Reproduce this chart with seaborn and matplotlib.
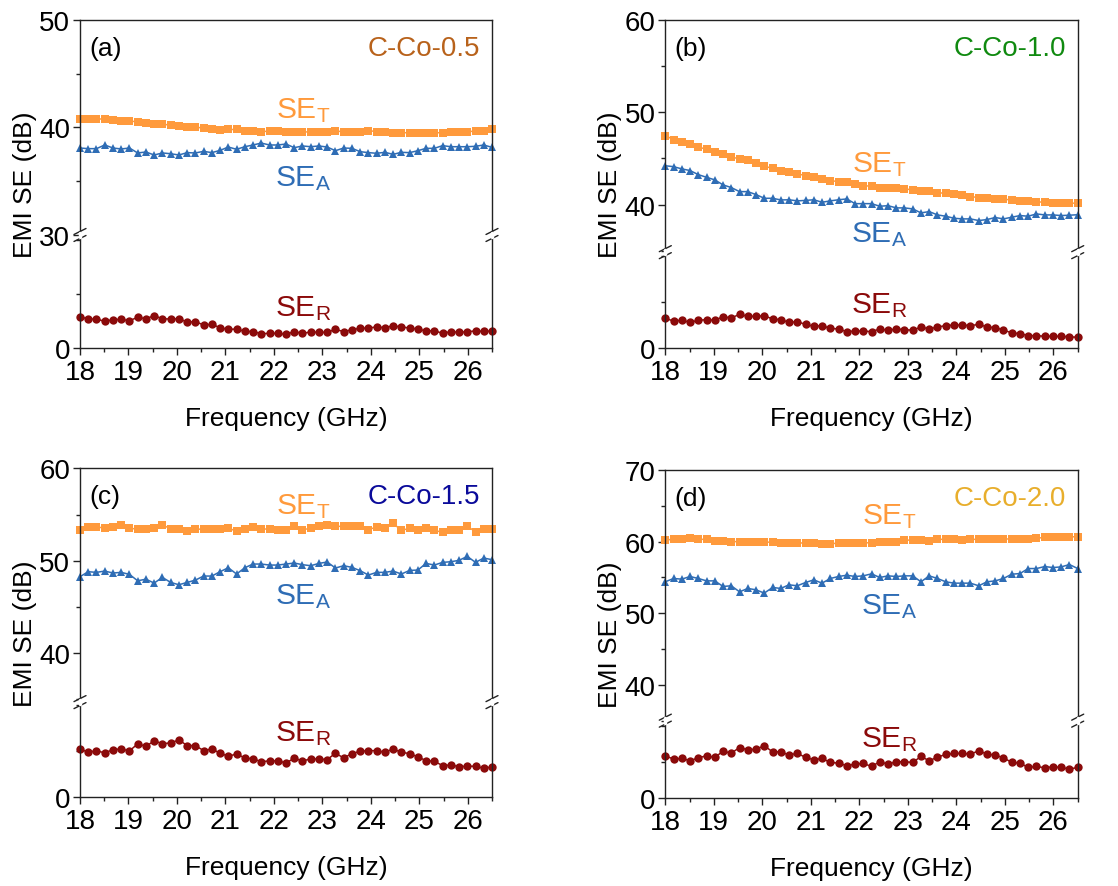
import numpy as np
import matplotlib
matplotlib.use("Agg")
import matplotlib.pyplot as plt
import seaborn as sns
from matplotlib.lines import Line2D
from matplotlib.ticker import MultipleLocator

sns.set_style("ticks")
plt.rcParams['font.family'] = ['Liberation Sans', 'DejaVu Sans']
plt.rcParams['mathtext.default'] = 'regular'
plt.rcParams['text.color'] = 'black'
plt.rcParams['axes.labelcolor'] = 'black'
plt.rcParams['xtick.color'] = 'black'
plt.rcParams['ytick.color'] = 'black'
plt.rcParams['axes.edgecolor'] = 'black'

freq = np.round(np.linspace(18.0, 26.5, 51), 3)

# ---- Panel (a) C-Co-0.5
a_T = [40.8, 40.8, 40.8, 40.75, 40.7, 40.6, 40.6, 40.5, 40.4, 40.35,
       40.3, 40.2, 40.1, 40.05, 40.0, 39.95, 39.85, 39.75, 39.8, 39.8,
       39.7, 39.7, 39.6, 39.65, 39.7, 39.55, 39.55, 39.55, 39.6, 39.6,
       39.6, 39.65, 39.6, 39.6, 39.55, 39.7, 39.6, 39.55, 39.5, 39.5,
       39.5, 39.5, 39.5, 39.5, 39.5, 39.55, 39.6, 39.6, 39.65, 39.7, 39.8]
a_A = [38.08, 38.02, 38.02, 38.36, 38.08, 37.99, 38.08, 37.62, 37.71, 37.43,
       37.62, 37.55, 37.43, 37.65, 37.62, 37.77, 37.65, 37.86, 38.17, 37.96,
       38.2, 38.36, 38.54, 38.36, 38.36, 38.45, 38.11, 38.27, 38.2, 38.27,
       38.17, 37.83, 38.08, 38.05, 37.74, 37.65, 37.59, 37.68, 37.49, 37.68,
       37.65, 37.83, 38.05, 38.05, 38.3, 38.2, 38.2, 38.2, 38.24, 38.36, 38.14]
a_R = [2.91, 2.69, 2.69, 2.48, 2.63, 2.66, 2.54, 2.85, 2.72, 3.0,
       2.72, 2.69, 2.72, 2.41, 2.45, 2.14, 2.2, 1.89, 1.73, 1.76,
       1.55, 1.52, 1.33, 1.36, 1.36, 1.27, 1.52, 1.36, 1.49, 1.46,
       1.46, 1.73, 1.52, 1.7, 1.83, 1.86, 1.95, 1.89, 2.07, 1.95,
       1.86, 1.76, 1.58, 1.61, 1.36, 1.52, 1.46, 1.52, 1.58, 1.55, 1.58]

# ---- Panel (b) C-Co-1.0
b_T = [47.46, 47.03, 46.81, 46.52, 46.23, 45.98, 45.73, 45.51, 45.15, 44.94,
       44.79, 44.47, 44.14, 43.93, 43.68, 43.5, 43.32, 43.14, 42.95, 42.77,
       42.59, 42.49, 42.4, 42.2, 42.05, 41.98, 41.84, 41.8, 41.75, 41.69,
       41.6, 41.51, 41.45, 41.3, 41.2, 41.12, 41.01, 40.86, 40.76, 40.68,
       40.61, 40.58, 40.5, 40.43, 40.36, 40.3, 40.25, 40.18, 40.18, 40.15, 40.15]
b_A = [44.2, 44.1, 43.86, 43.68, 43.24, 42.95, 42.67, 42.13, 41.84, 41.4,
       41.4, 41.08, 40.68, 40.68, 40.5, 40.52, 40.4, 40.45, 40.52, 40.25,
       40.4, 40.52, 40.61, 40.1, 40.1, 40.1, 39.82, 39.88, 39.64, 39.64,
       39.53, 39.1, 39.24, 38.88, 38.74, 38.52, 38.45, 38.45, 38.27, 38.38,
       38.6, 38.45, 38.63, 38.81, 38.74, 38.99, 38.88, 38.88, 38.81, 38.85, 38.9]
b_R = [3.24, 2.95, 3.03, 2.81, 3.03, 3.1, 3.03, 3.42, 3.28, 3.68,
       3.46, 3.46, 3.53, 3.17, 3.1, 2.81, 2.88, 2.59, 2.38, 2.45,
       2.16, 2.09, 1.8, 1.87, 1.87, 1.8, 2.09, 1.95, 2.09, 2.02,
       1.95, 2.31, 2.09, 2.31, 2.45, 2.52, 2.52, 2.45, 2.59, 2.31,
       2.23, 1.98, 1.66, 1.59, 1.37, 1.37, 1.3, 1.3, 1.3, 1.23, 1.2]

# ---- Panel (c) C-Co-1.5
c_T = [53.36, 53.61, 53.65, 53.54, 53.65, 53.9, 53.5, 53.43, 53.43, 53.5,
       53.9, 53.43, 53.43, 53.18, 53.4, 53.43, 53.43, 53.47, 53.54, 53.18,
       53.4, 53.65, 53.43, 53.43, 53.36, 53.36, 53.72, 53.36, 53.5, 53.72,
       53.86, 53.72, 53.72, 53.72, 53.72, 53.36, 53.65, 53.5, 54.04, 53.29,
       53.5, 53.36, 53.5, 53.29, 53.07, 53.36, 53.36, 53.72, 53.14, 53.43, 53.43]
c_A = [48.27, 48.81, 48.74, 48.88, 48.67, 48.74, 48.52, 47.83, 48.0, 47.58,
       48.2, 47.65, 47.4, 47.65, 47.9, 48.34, 48.34, 48.81, 49.24, 48.56,
       49.24, 49.64, 49.64, 49.53, 49.53, 49.64, 49.75, 49.57, 49.46, 49.71,
       49.86, 49.21, 49.46, 49.28, 48.92, 48.45, 48.74, 48.74, 48.88, 48.56,
       48.95, 48.99, 49.71, 49.53, 49.82, 49.89, 50.04, 50.47, 49.82, 50.29, 50.11]
c_R = [5.23, 4.87, 5.05, 4.8, 5.16, 5.23, 5.02, 5.78, 5.52, 6.1,
       5.81, 5.88, 6.21, 5.6, 5.6, 5.05, 5.23, 4.77, 4.44, 4.69,
       4.26, 4.15, 3.86, 3.94, 3.94, 3.72, 4.22, 3.94, 4.15, 4.15,
       4.08, 4.77, 4.26, 4.73, 4.98, 5.05, 5.05, 4.87, 5.23, 4.87,
       4.73, 4.37, 3.97, 3.9, 3.43, 3.5, 3.32, 3.36, 3.36, 3.14, 3.29]

# ---- Panel (d) C-Co-2.0
d_T = [60.23, 60.32, 60.32, 60.46, 60.32, 60.32, 60.09, 60.09, 60.0, 60.0,
       60.0, 59.95, 59.95, 59.9, 59.86, 59.81, 59.81, 59.81, 59.81, 59.72,
       59.68, 59.81, 59.81, 59.81, 59.81, 59.86, 59.95, 60.0, 60.0, 60.19,
       60.23, 60.19, 60.09, 60.32, 60.32, 60.42, 60.19, 60.32, 60.32, 60.32,
       60.32, 60.37, 60.37, 60.37, 60.37, 60.46, 60.6, 60.6, 60.6, 60.65, 60.7]
d_A = [54.39, 54.85, 54.76, 55.13, 54.85, 54.52, 54.52, 53.74, 53.83, 52.99,
       53.46, 53.27, 52.81, 53.6, 53.46, 53.97, 53.83, 54.29, 54.66, 54.2,
       54.85, 55.13, 55.31, 55.13, 55.22, 55.5, 54.99, 55.22, 55.13, 55.22,
       55.22, 54.39, 55.22, 54.85, 54.39, 54.2, 54.2, 54.2, 53.83, 54.39,
       54.52, 54.85, 55.45, 55.54, 56.24, 56.24, 56.52, 56.38, 56.47, 56.8, 56.24]
d_R = [5.89, 5.43, 5.52, 5.2, 5.61, 5.89, 5.66, 6.54, 6.26, 7.05,
       6.73, 6.82, 7.29, 6.45, 6.45, 5.99, 6.26, 5.66, 5.34, 5.52,
       4.97, 4.87, 4.5, 4.73, 4.82, 4.41, 5.06, 4.73, 5.06, 5.06,
       4.97, 5.8, 5.2, 5.71, 6.08, 6.22, 6.22, 6.13, 6.59, 6.13,
       5.99, 5.61, 4.97, 4.87, 4.27, 4.41, 4.22, 4.36, 4.27, 4.04, 4.27]

labels = ["(a)", "(b)", "(c)", "(d)"]
samples = ["C-Co-0.5", "C-Co-1.0", "C-Co-1.5", "C-Co-2.0"]
sample_colors = ["#B8621B", "#108A10", "#0A0A9A", "#E8AE2C"]

c_orange = "#FF9A3C"
c_blue = "#2F6DB5"
c_red = "#8B0A0A"

W, H = 1118, 887
fig = plt.figure(figsize=(W / 100, H / 100), dpi=100)

def fx(x):
    return x / W

def fy(y):
    return 1 - y / H

# panel layout in pixels: left, right, top, bottom
boxes = [(80, 492, 20.7, 349), (665.3, 1077.7, 20.7, 349.3),
         (80, 492, 469.3, 798.3), (665.3, 1077.7, 471, 799)]
lows = [(0, 10.5), (0, 10.4), (0, 10.3), (0, 10.8)]
ups = [(30, 50), (34.85, 60), (34.7, 60), (35, 70)]
up_ticks = [[30, 40, 50], [40, 50, 60], [40, 50, 60], [40, 50, 60, 70]]
data = [(a_T, a_A, a_R), (b_T, b_A, b_R), (c_T, c_A, c_R), (d_T, d_A, d_R)]
# label anchor (x centre, y baseline in data units) for SE_T, SE_A (upper) and SE_R (lower)
lab_pos = [((22.6, 40.93), (22.6, 34.58), (22.6, 3.07)),
           ((22.4, 43.6), (22.4, 36.04), (22.4, 3.89)),
           ((22.6, 55.16), (22.6, 45.38), (22.6, 6.14)),
           ((22.62, 62.55), (22.62, 50.02), (22.62, 7.19))]

tick_fs = 20
lw = 1.1
for k in range(4):
    L, R, T, B = boxes[k]
    lo, up = lows[k], ups[k]
    span_lo = lo[1] - lo[0]
    span_up = up[1] - up[0]
    hpx = B - T
    h_lo = hpx * span_lo / (span_lo + span_up)
    y_break = B - h_lo
    ax_lo = fig.add_axes([fx(L), fy(B), (R - L) / W, h_lo / H])
    ax_up = fig.add_axes([fx(L), fy(y_break), (R - L) / W, (y_break - T) / H])

    sT, sA, sR = data[k]
    sns.lineplot(x=freq, y=sT, ax=ax_up, color=c_orange, marker='s', markersize=5.2,
                 markeredgewidth=0, linewidth=lw, clip_on=False)
    sns.lineplot(x=freq, y=sA, ax=ax_up, color=c_blue, marker='^', markersize=6.2,
                 markeredgewidth=0, linewidth=lw, clip_on=False)
    sns.lineplot(x=freq, y=sR, ax=ax_lo, color=c_red, marker='o', markersize=6,
                 markeredgewidth=0, linewidth=lw, clip_on=False)

    for ax in (ax_lo, ax_up):
        ax.set_xlim(18, 26.5)
        for s in ax.spines.values():
            s.set_linewidth(1.0)
            s.set_color("#222222")
        ax.tick_params(axis='both', which='major', direction='out', length=5, width=1.0,
                       labelsize=tick_fs, colors="#222222", labelcolor="black")
        ax.tick_params(axis='both', which='minor', direction='out', length=3, width=1.0,
                       colors="#222222")
        ax.set_xlabel("")
        ax.set_ylabel("")
    ax_lo.set_ylim(*lo)
    ax_up.set_ylim(*up)
    ax_lo.spines['top'].set_visible(False)
    ax_up.spines['bottom'].set_visible(False)
    ax_up.set_xticks([])
    ax_up.tick_params(axis='x', which='both', bottom=False, labelbottom=False)
    ax_up.set_yticks(up_ticks[k])
    ax_up.yaxis.set_minor_locator(MultipleLocator(5))
    ax_lo.set_yticks([0])
    ax_lo.yaxis.set_minor_locator(MultipleLocator(5))
    ax_lo.set_xticks(range(18, 27))
    ax_lo.xaxis.set_minor_locator(MultipleLocator(0.5))
    ax_lo.tick_params(axis='x', pad=3)
    ax_lo.tick_params(axis='y', pad=2)
    ax_up.tick_params(axis='y', pad=2)

    # series labels
    (tx, ty), (axx, ayy), (rx, ry) = lab_pos[k]
    ax_up.text(tx, ty, "SE$_T$", color=c_orange, fontsize=21.5, ha='center', va='baseline')
    ax_up.text(axx, ayy, "SE$_A$", color=c_blue, fontsize=21.5, ha='center', va='baseline')
    ax_lo.text(rx, ry, "SE$_R$", color=c_red, fontsize=21.5, ha='center', va='baseline')

    # axis labels
    ax_lo.set_xlabel("Frequency (GHz)", fontsize=19, labelpad=15)
    fig.text(fx(L - 55), fy((T + B) / 2), "EMI SE (dB)", rotation=90, fontsize=19,
             ha='center', va='center')

    # panel letter and sample name
    fig.text(fx(L + 9), fy(T + 28), labels[k], fontsize=19, ha='left', va='center')
    fig.text(fx(R - 12), fy(T + 28), samples[k], fontsize=20, ha='right', va='center',
             color=sample_colors[k])

    # break marks
    for xs in (L, R):
        for off in (-3.5, 3.5):
            fig.add_artist(Line2D([fx(xs - 6), fx(xs + 6)],
                                  [fy(y_break + off + 3), fy(y_break + off - 3)],
                                  color="#222222", linewidth=1.0))
        fig.add_artist(Line2D([fx(xs), fx(xs)], [fy(y_break + 2.2), fy(y_break - 2.2)],
                              color="white", linewidth=2.5, zorder=5))

fig.savefig("out.png", dpi=100, facecolor="white")
